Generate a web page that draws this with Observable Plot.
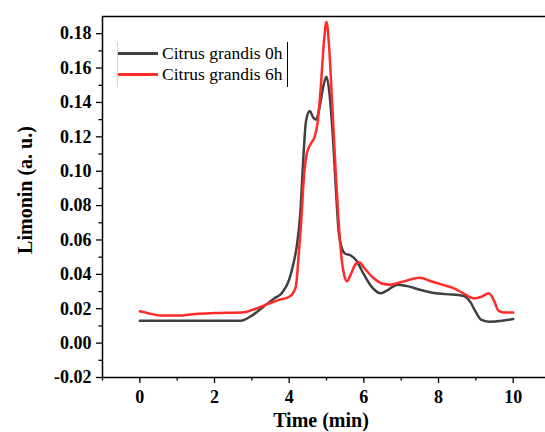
<!DOCTYPE html>
<html><head><meta charset="utf-8">
<script src="https://cdn.jsdelivr.net/npm/d3@7"></script>
<script src="https://cdn.jsdelivr.net/npm/@observablehq/plot@0.6"></script>
<style>
body{margin:0;background:#fff;}
#wrap{position:relative;width:545px;height:432px;overflow:hidden;}
#wrap svg, #wrap svg text{font-family:"Times New Roman","Liberation Serif",serif;}
#legend{position:absolute;left:117px;top:42px;width:169px;height:45px;border-left:1px solid #d4d4d4;border-right:1px solid #000;font-family:"Times New Roman","Liberation Serif",serif;font-size:17.5px;font-weight:normal;color:#000;}
.row{position:absolute;left:0;height:20px;display:flex;align-items:center;white-space:nowrap;}
.sw{width:40px;height:3px;margin-right:4px;}
</style></head>
<body><div id="wrap"></div>
<script>
const FONT = '"Times New Roman", "Liberation Serif", serif';
const seriesNames = ["Citrus grandis 0h", "Citrus grandis 6h"];
const colors = ["#404040", "#ff2b2b"];
const xTicks = [0, 2, 4, 6, 8, 10];
const xMinor = [-1, 1, 3, 5, 7, 9];
const yTicks = [-0.02, 0, 0.02, 0.04, 0.06, 0.08, 0.10, 0.12, 0.14, 0.16, 0.18];
const yMinor = [-0.01, 0.01, 0.03, 0.05, 0.07, 0.09, 0.11, 0.13, 0.15, 0.17];
const xDomain = [-1, 10.865];
const yDomain = [-0.02, 0.19];

const t0 = [0,1,2,2.7,3.0,3.3,3.6,3.8,4.0,4.1,4.2,4.3,4.38,4.45,4.55,4.65,4.72,4.82,4.92,5.0,5.08,5.17,5.25,5.32,5.4,5.5,5.65,5.8,6.0,6.2,6.45,6.65,6.9,7.2,7.5,7.8,8.2,8.65,8.85,9.0,9.15,9.35,9.7,10.0];
const y0 = [0.013,0.013,0.013,0.013,0.016,0.021,0.026,0.029,0.037,0.045,0.056,0.076,0.108,0.129,0.135,0.131,0.130,0.138,0.150,0.155,0.145,0.120,0.090,0.066,0.056,0.052,0.051,0.048,0.040,0.033,0.029,0.031,0.034,0.033,0.031,0.0295,0.0285,0.0275,0.024,0.018,0.0135,0.0125,0.013,0.014];
const t6 = [0,0.3,0.6,1.0,1.5,2.0,2.8,3.1,3.4,3.7,4.0,4.1,4.18,4.25,4.32,4.4,4.48,4.58,4.68,4.76,4.85,4.93,5.0,5.07,5.15,5.24,5.32,5.4,5.48,5.55,5.65,5.78,5.88,6.0,6.25,6.5,6.7,7.0,7.5,7.8,8.1,8.4,8.7,8.95,9.15,9.35,9.5,9.6,9.75,10.0];
const y6 = [0.0185,0.017,0.016,0.016,0.017,0.0175,0.018,0.020,0.0225,0.025,0.027,0.029,0.033,0.050,0.070,0.098,0.111,0.116,0.120,0.128,0.150,0.175,0.187,0.172,0.140,0.102,0.072,0.050,0.039,0.036,0.040,0.046,0.047,0.044,0.038,0.0345,0.034,0.0355,0.038,0.036,0.034,0.032,0.0285,0.026,0.027,0.029,0.024,0.019,0.0178,0.0178];

const data = [
  ...t0.map((t, i) => ({series: seriesNames[0], time: t, value: y0[i]})),
  ...t6.map((t, i) => ({series: seriesNames[1], time: t, value: y6[i]}))
];

const chart = Plot.plot({
  width: 545, height: 432,
  marginTop: 16, marginBottom: 55, marginLeft: 102, marginRight: 0,
  x: {domain: xDomain},
  y: {domain: yDomain},
  color: {domain: seriesNames, range: colors},
  style: {fontFamily: FONT, fontSize: "18px", fontWeight: "bold", color: "#000", background: "#fff"},
  marks: [
    Plot.axisX(xTicks, {tickSize: 6, tickPadding: 7, label: null, strokeWidth: 1.3, fontFamily: FONT, fontWeight: "bold", fontSize: 18}),
    Plot.axisX(xMinor, {tickSize: 3.5, text: null, label: null, strokeWidth: 1.3}),
    Plot.axisY(yTicks, {tickSize: 6, tickPadding: 5, tickFormat: d => d.toFixed(2), label: null, strokeWidth: 1.3, fontFamily: FONT, fontWeight: "bold", fontSize: 18}),
    Plot.axisY(yMinor, {tickSize: 3.5, text: null, label: null, strokeWidth: 1.3}),
    Plot.ruleY([yDomain[0]], {stroke: "#000", strokeWidth: 1.5}),
    Plot.ruleY([yDomain[1]], {stroke: "#000", strokeWidth: 1.5}),
    Plot.ruleX([xDomain[0]], {stroke: "#000", strokeWidth: 1.5}),
    Plot.line(data, {x: "time", y: "value", z: "series", stroke: "series", strokeWidth: 2.5, curve: "monotone-x"}),
    Plot.text(["Time (min)"], {text: d => d, frameAnchor: "bottom", textAnchor: "middle", dx: -3, dy: 49, fontSize: 20, fontWeight: "bold", fontFamily: FONT}),
    Plot.text(["Limonin (a. u.)"], {text: d => d, frameAnchor: "left", textAnchor: "middle", lineAnchor: "middle", rotate: -90, dx: -77, dy: -7, fontSize: 20, fontWeight: "bold", fontFamily: FONT})
  ]
});
const wrap = document.getElementById("wrap");
wrap.appendChild(chart);
const leg = document.createElement("div");
leg.id = "legend";
seriesNames.forEach((name, i) => {
  const row = document.createElement("div");
  row.className = "row";
  row.style.top = (1 + i * 21) + "px";
  const sw = document.createElement("span");
  sw.className = "sw";
  sw.style.background = colors[i];
  const tx = document.createElement("span");
  tx.textContent = name;
  row.appendChild(sw); row.appendChild(tx);
  leg.appendChild(row);
});
wrap.appendChild(leg);
</script>
</body></html>
